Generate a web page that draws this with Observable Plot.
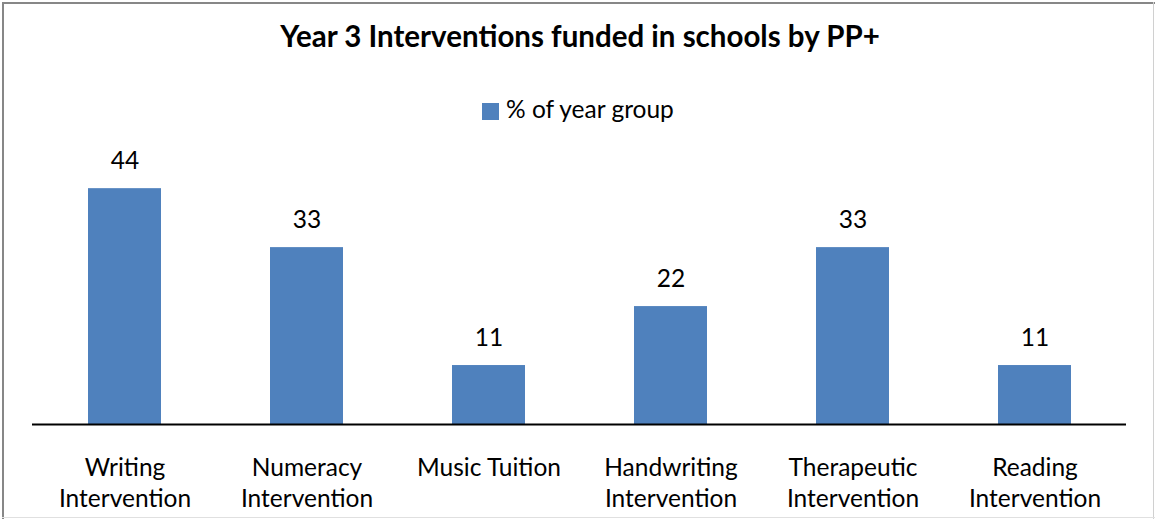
<!DOCTYPE html>
<html>
<head>
<meta charset="utf-8">
<script src="https://cdn.jsdelivr.net/npm/d3@7"></script>
<script src="https://cdn.jsdelivr.net/npm/@observablehq/plot@0.6"></script>
<style>
  html, body { margin: 0; padding: 0; background: #fff; }
  #wrap { position: relative; width: 1155px; height: 519px; overflow: hidden; background: #fff; font-family: Lato, "Open Sans", sans-serif; color: #000; }
  .bl { position: absolute; }
  #title { position: absolute; left: 0; width: 1160px; top: 20.5px; text-align: center; font-weight: bold; font-size: 29.5px; line-height: 1; }
  #legend { position: absolute; left: 482px; top: 96.5px; font-size: 24.5px; line-height: 1; white-space: nowrap; }
  #legend .sw { position: absolute; left: 0; top: 6.2px; width: 17px; height: 17px; background: #4F81BD; }
  #legend .lt { position: absolute; left: 24px; top: 0; }
  #chart { position: absolute; left: 0; top: 140px; }
</style>
</head>
<body>
<div id="wrap">
  <div class="bl" style="left:2px;top:2px;width:2px;height:517px;background:#878787"></div>
  <div class="bl" style="left:2px;top:2px;width:1153px;height:2px;background:#878787"></div>
  <div class="bl" style="left:1153px;top:2px;width:1px;height:517px;background:#d0d0d0"></div>
  <div class="bl" style="left:2px;top:517px;width:1153px;height:1px;background:#e0e0e0"></div>
  <div id="title">Year 3 Interventions funded in schools by PP+</div>
  <div id="legend"><div class="sw"></div><div class="lt">% of year group</div></div>
  <div id="chart"></div>
</div>
<script>
const categories = ["Writing Intervention", "Numeracy Intervention", "Music Tuition", "Handwriting Intervention", "Therapeutic Intervention", "Reading Intervention"];
const tickLabels = ["Writing\nIntervention", "Numeracy\nIntervention", "Music Tuition", "Handwriting\nIntervention", "Therapeutic\nIntervention", "Reading\nIntervention"];
const values = [44, 33, 11, 22, 33, 11];
const seriesName = "% of year group";

const data = categories.map((c, i) => ({category: c, value: values[i]}));
const labelOf = new Map(categories.map((c, i) => [c, tickLabels[i]]));

const chart = Plot.plot({
  width: 1155,
  height: 379,
  marginLeft: 32,
  marginRight: 29,
  marginTop: 16,
  marginBottom: 95,
  style: {fontFamily: "Lato, 'Open Sans', sans-serif", fontSize: "24.5px", color: "#000", background: "transparent", overflow: "visible"},
  x: {domain: categories, paddingInner: 0.6, paddingOuter: 0.3, label: null},
  y: {domain: [0, 50], axis: null},
  marks: [
    Plot.barY(data, {x: "category", y: "value", fill: "#4F81BD"}),
    Plot.ruleY([0], {stroke: "#000", strokeWidth: 2}),
    Plot.text(data, {x: "category", y: "value", text: d => String(d.value), lineAnchor: "bottom", dy: -19.5, fill: "#000", fontSize: 24.5}),
    Plot.axisX({tickSize: 0, tickPadding: 29.5, tickFormat: d => labelOf.get(d), lineHeight: 1.265, fontSize: 24.5, fill: "#000", label: null})
  ]
});
document.getElementById("chart").appendChild(chart);
</script>
</body>
</html>
